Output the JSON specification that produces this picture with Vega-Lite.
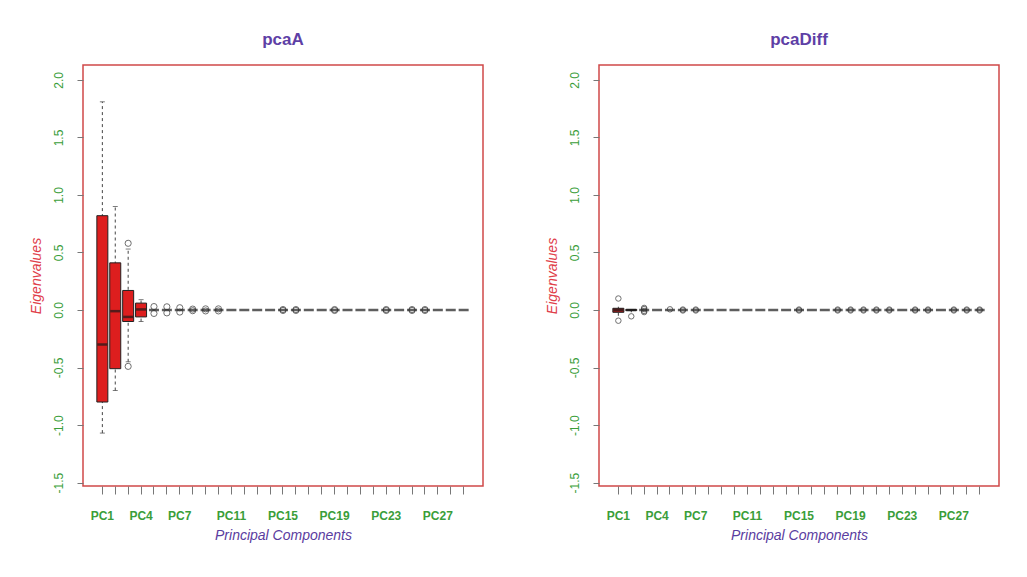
{
  "$schema": "https://vega.github.io/schema/vega-lite/v6.json",
  "background": "white",
  "padding": {"left": 28, "top": 30, "right": 5, "bottom": 5},
  "spacing": 60,
  "config": {
    "font": "Liberation Sans",
    "view": {"stroke": "#d04848", "strokeWidth": 1.5},
    "axis": {"grid": false, "domain": false, "tickColor": "#777", "tickWidth": 1},
    "title": {"color": "#5e3fa6", "fontSize": 17, "fontWeight": "bold", "offset": 16, "anchor": "middle", "font": "Liberation Sans"}
  },
  "datasets": {
    "boxA": [
      {"pc": "PC1", "lo": -1.07, "q1": -0.80, "med": -0.30, "q3": 0.82, "hi": 1.81},
      {"pc": "PC2", "lo": -0.70, "q1": -0.51, "med": -0.01, "q3": 0.41, "hi": 0.90},
      {"pc": "PC3", "lo": -0.45, "q1": -0.10, "med": -0.06, "q3": 0.17, "hi": 0.53},
      {"pc": "PC4", "lo": -0.10, "q1": -0.06, "med": 0.005, "q3": 0.06, "hi": 0.09}
    ],
    "medA": [
      {"pc": "PC1", "med": -0.30}, {"pc": "PC2", "med": -0.01}, {"pc": "PC3", "med": -0.06}, {"pc": "PC4", "med": 0.005},
      {"pc": "PC5", "med": 0}, {"pc": "PC6", "med": 0}, {"pc": "PC7", "med": 0}, {"pc": "PC8", "med": 0},
      {"pc": "PC9", "med": 0}, {"pc": "PC10", "med": 0}, {"pc": "PC11", "med": 0}, {"pc": "PC12", "med": 0},
      {"pc": "PC13", "med": 0}, {"pc": "PC14", "med": 0}, {"pc": "PC15", "med": 0}, {"pc": "PC16", "med": 0},
      {"pc": "PC17", "med": 0}, {"pc": "PC18", "med": 0}, {"pc": "PC19", "med": 0}, {"pc": "PC20", "med": 0},
      {"pc": "PC21", "med": 0}, {"pc": "PC22", "med": 0}, {"pc": "PC23", "med": 0}, {"pc": "PC24", "med": 0},
      {"pc": "PC25", "med": 0}, {"pc": "PC26", "med": 0}, {"pc": "PC27", "med": 0}, {"pc": "PC28", "med": 0},
      {"pc": "PC29", "med": 0}
    ],
    "outA": [
      {"pc": "PC3", "v": 0.58}, {"pc": "PC3", "v": -0.49},
      {"pc": "PC5", "v": 0.03}, {"pc": "PC5", "v": -0.03},
      {"pc": "PC6", "v": 0.028}, {"pc": "PC6", "v": -0.025},
      {"pc": "PC7", "v": 0.02}, {"pc": "PC7", "v": -0.018},
      {"pc": "PC8", "v": 0.008}, {"pc": "PC8", "v": -0.006},
      {"pc": "PC9", "v": 0.01}, {"pc": "PC9", "v": -0.008},
      {"pc": "PC10", "v": 0.01}, {"pc": "PC10", "v": -0.008},
      {"pc": "PC15", "v": 0.004}, {"pc": "PC15", "v": -0.004},
      {"pc": "PC16", "v": 0.004}, {"pc": "PC16", "v": -0.004},
      {"pc": "PC19", "v": 0.004}, {"pc": "PC19", "v": -0.004},
      {"pc": "PC23", "v": 0.004}, {"pc": "PC23", "v": -0.004},
      {"pc": "PC25", "v": 0.004}, {"pc": "PC25", "v": -0.004},
      {"pc": "PC26", "v": 0.004}, {"pc": "PC26", "v": -0.004}
    ],
    "boxB": [
      {"pc": "PC1", "lo": -0.05, "q1": -0.02, "med": 0, "q3": 0.015, "hi": 0.05},
      {"pc": "PC2", "lo": -0.02, "q1": -0.005, "med": 0, "q3": 0.005, "hi": 0.02}
    ],
    "medB": [
      {"pc": "PC1", "med": 0}, {"pc": "PC2", "med": 0}, {"pc": "PC3", "med": 0}, {"pc": "PC4", "med": 0},
      {"pc": "PC5", "med": 0}, {"pc": "PC6", "med": 0}, {"pc": "PC7", "med": 0}, {"pc": "PC8", "med": 0},
      {"pc": "PC9", "med": 0}, {"pc": "PC10", "med": 0}, {"pc": "PC11", "med": 0}, {"pc": "PC12", "med": 0},
      {"pc": "PC13", "med": 0}, {"pc": "PC14", "med": 0}, {"pc": "PC15", "med": 0}, {"pc": "PC16", "med": 0},
      {"pc": "PC17", "med": 0}, {"pc": "PC18", "med": 0}, {"pc": "PC19", "med": 0}, {"pc": "PC20", "med": 0},
      {"pc": "PC21", "med": 0}, {"pc": "PC22", "med": 0}, {"pc": "PC23", "med": 0}, {"pc": "PC24", "med": 0},
      {"pc": "PC25", "med": 0}, {"pc": "PC26", "med": 0}, {"pc": "PC27", "med": 0}, {"pc": "PC28", "med": 0},
      {"pc": "PC29", "med": 0}
    ],
    "outB": [
      {"pc": "PC1", "v": 0.10}, {"pc": "PC1", "v": -0.093},
      {"pc": "PC2", "v": -0.055},
      {"pc": "PC3", "v": 0.018}, {"pc": "PC3", "v": 0.008}, {"pc": "PC3", "v": -0.008}, {"pc": "PC3", "v": -0.018},
      {"pc": "PC5", "v": 0.006},
      {"pc": "PC6", "v": 0.004}, {"pc": "PC6", "v": -0.004},
      {"pc": "PC7", "v": 0.004}, {"pc": "PC7", "v": -0.004},
      {"pc": "PC15", "v": 0.004}, {"pc": "PC15", "v": -0.004},
      {"pc": "PC18", "v": 0.004}, {"pc": "PC18", "v": -0.004},
      {"pc": "PC19", "v": 0.004}, {"pc": "PC19", "v": -0.004},
      {"pc": "PC20", "v": 0.004}, {"pc": "PC20", "v": -0.004},
      {"pc": "PC21", "v": 0.004}, {"pc": "PC21", "v": -0.004},
      {"pc": "PC22", "v": 0.004}, {"pc": "PC22", "v": -0.004},
      {"pc": "PC24", "v": 0.004}, {"pc": "PC24", "v": -0.004},
      {"pc": "PC25", "v": 0.004}, {"pc": "PC25", "v": -0.004},
      {"pc": "PC27", "v": 0.004}, {"pc": "PC27", "v": -0.004},
      {"pc": "PC28", "v": 0.004}, {"pc": "PC28", "v": -0.004},
      {"pc": "PC29", "v": 0.004}, {"pc": "PC29", "v": -0.004}
    ]
  },
  "hconcat": [
    {
      "title": "pcaA",
      "width": 400,
      "height": 421,
      "encoding": {
        "x": {
          "field": "pc", "type": "ordinal", "sort": null,
          "scale": {"domain": ["PC1","PC2","PC3","PC4","PC5","PC6","PC7","PC8","PC9","PC10","PC11","PC12","PC13","PC14","PC15","PC16","PC17","PC18","PC19","PC20","PC21","PC22","PC23","PC24","PC25","PC26","PC27","PC28","PC29"], "paddingInner": 0, "paddingOuter": 1.055},
          "axis": {
            "title": "Principal Components", "titleColor": "#5a3ca0", "titleFontStyle": "italic", "titleFontWeight": "normal", "titleFontSize": 14, "titlePadding": 7,
            "labelExpr": "indexof(['PC1','PC4','PC7','PC11','PC15','PC19','PC23','PC27'], datum.value) >= 0 ? datum.value : ''",
            "labelAngle": 0, "labelColor": "#3a9e3a", "labelFontWeight": "bold", "labelFontSize": 12, "labelOverlap": false,
            "tickSize": 8, "labelPadding": 16
          }
        }
      },
      "layer": [
        {
          "data": {"name": "boxA"},
          "mark": {"type": "rule", "strokeDash": [3, 3], "color": "#444", "strokeWidth": 1},
          "encoding": {
            "y": {"field": "lo", "type": "quantitative",
              "scale": {"domain": [-1.53, 2.13], "nice": false, "zero": false},
              "axis": {"values": [-1.5, -1, -0.5, 0, 0.5, 1, 1.5, 2], "format": ".1f", "labelExpr": "replace(datum.label, '\u2212', '-')",
                "labelAngle": 270, "labelAlign": "center", "labelBaseline": "bottom", "labelColor": "#3a9e3a", "labelFontSize": 12,
                "tickSize": 6, "labelPadding": 12,
                "title": "Eigenvalues", "titleColor": "#e0404a", "titleFontStyle": "italic", "titleFontWeight": "normal", "titleFontSize": 14, "titlePadding": 9}},
            "y2": {"field": "hi"}
          }
        },
        {
          "data": {"name": "boxA"},
          "mark": {"type": "tick", "color": "#444", "size": 5, "thickness": 1},
          "encoding": {"y": {"field": "hi", "type": "quantitative"}}
        },
        {
          "data": {"name": "boxA"},
          "mark": {"type": "tick", "color": "#444", "size": 5, "thickness": 1},
          "encoding": {"y": {"field": "lo", "type": "quantitative"}}
        },
        {
          "data": {"name": "boxA"},
          "mark": {"type": "bar", "fill": "#dd1e1e", "stroke": "#222", "strokeWidth": 1, "size": 11},
          "encoding": {"y": {"field": "q1", "type": "quantitative"}, "y2": {"field": "q3"}}
        },
        {
          "data": {"name": "medA"},
          "mark": {"type": "tick", "color": "#1a1a1a", "size": 10, "thickness": 2.5},
          "encoding": {"y": {"field": "med", "type": "quantitative"}}
        },
        {
          "data": {"name": "outA"},
          "mark": {"type": "point", "shape": "circle", "filled": false, "stroke": "#333", "strokeWidth": 1, "size": 38},
          "encoding": {"y": {"field": "v", "type": "quantitative"}}
        }
      ]
    },
    {
      "title": "pcaDiff",
      "width": 400,
      "height": 421,
      "encoding": {
        "x": {
          "field": "pc", "type": "ordinal", "sort": null,
          "scale": {"domain": ["PC1","PC2","PC3","PC4","PC5","PC6","PC7","PC8","PC9","PC10","PC11","PC12","PC13","PC14","PC15","PC16","PC17","PC18","PC19","PC20","PC21","PC22","PC23","PC24","PC25","PC26","PC27","PC28","PC29"], "paddingInner": 0, "paddingOuter": 1.055},
          "axis": {
            "title": "Principal Components", "titleColor": "#5a3ca0", "titleFontStyle": "italic", "titleFontWeight": "normal", "titleFontSize": 14, "titlePadding": 7,
            "labelExpr": "indexof(['PC1','PC4','PC7','PC11','PC15','PC19','PC23','PC27'], datum.value) >= 0 ? datum.value : ''",
            "labelAngle": 0, "labelColor": "#3a9e3a", "labelFontWeight": "bold", "labelFontSize": 12, "labelOverlap": false,
            "tickSize": 8, "labelPadding": 16
          }
        }
      },
      "layer": [
        {
          "data": {"name": "boxB"},
          "mark": {"type": "rule", "strokeDash": [3, 3], "color": "#444", "strokeWidth": 1},
          "encoding": {
            "y": {"field": "lo", "type": "quantitative",
              "scale": {"domain": [-1.53, 2.13], "nice": false, "zero": false},
              "axis": {"values": [-1.5, -1, -0.5, 0, 0.5, 1, 1.5, 2], "format": ".1f", "labelExpr": "replace(datum.label, '\u2212', '-')",
                "labelAngle": 270, "labelAlign": "center", "labelBaseline": "bottom", "labelColor": "#3a9e3a", "labelFontSize": 12,
                "tickSize": 6, "labelPadding": 12,
                "title": "Eigenvalues", "titleColor": "#e0404a", "titleFontStyle": "italic", "titleFontWeight": "normal", "titleFontSize": 14, "titlePadding": 9}},
            "y2": {"field": "hi"}
          }
        },
        {
          "data": {"name": "boxB"},
          "mark": {"type": "bar", "fill": "#b01e1e", "stroke": "#222", "strokeWidth": 1, "size": 11},
          "encoding": {"y": {"field": "q1", "type": "quantitative"}, "y2": {"field": "q3"}}
        },
        {
          "data": {"name": "medB"},
          "mark": {"type": "tick", "color": "#1a1a1a", "size": 10, "thickness": 2.5},
          "encoding": {"y": {"field": "med", "type": "quantitative"}}
        },
        {
          "data": {"name": "outB"},
          "mark": {"type": "point", "shape": "circle", "filled": false, "stroke": "#333", "strokeWidth": 1, "size": 30},
          "encoding": {"y": {"field": "v", "type": "quantitative"}}
        }
      ]
    }
  ]
}
